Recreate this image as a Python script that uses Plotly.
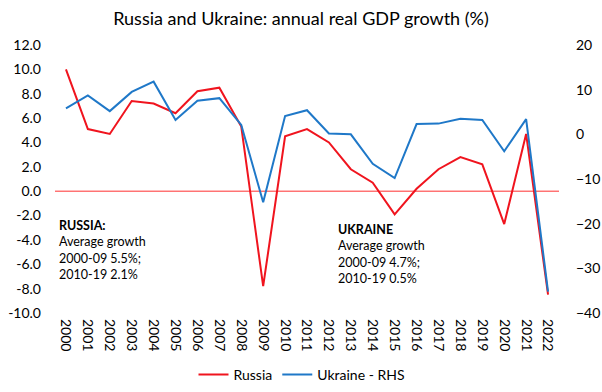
import plotly.graph_objects as go

years = [str(y) for y in range(2000, 2023)]
russia = [10.0, 5.1, 4.7, 7.4, 7.2, 6.4, 8.2, 8.5, 5.3, -7.8, 4.5, 5.1, 4.0, 1.8, 0.7,
          -1.9, 0.2, 1.8, 2.8, 2.2, -2.7, 4.7, -8.5]
ukraine = [5.8, 8.7, 5.2, 9.5, 11.8, 3.2, 7.5, 8.1, 2.1, -15.2, 4.1, 5.4, 0.2, 0.0, -6.6,
           -9.8, 2.3, 2.4, 3.5, 3.2, -3.8, 3.4, -35.2]
left_ticks = [-10, -8, -6, -4, -2, 0, 2, 4, 6, 8, 10, 12]
right_ticks = [-40, -30, -20, -10, 0, 10, 20]

FONT = "Lato"
PLOT_L, PLOT_R, PLOT_T, PLOT_B = 55, 559, 45, 313
W, H = 602, 392
PH = PLOT_B - PLOT_T
PW = PLOT_R - PLOT_L

fig = go.Figure()
fig.add_trace(go.Scatter(x=years, y=russia, name="Russia", mode="lines",
                         line=dict(color="#F0141E", width=2)))
fig.add_trace(go.Scatter(x=years, y=ukraine, name="Ukraine - RHS", mode="lines",
                         line=dict(color="#1F78C8", width=2), yaxis="y2"))

# zero reference line on the left axis
fig.add_hline(y=0, line=dict(color="#FF3030", width=1), layer="below")

fig.update_layout(
    width=W, height=H,
    paper_bgcolor="white", plot_bgcolor="white",
    margin=dict(l=PLOT_L, r=W - PLOT_R, t=PLOT_T, b=H - PLOT_B, autoexpand=False),
    font=dict(family=FONT, size=14, color="black"),
    title=dict(text="Russia and Ukraine: annual real GDP growth (%)",
               x=0.5, xanchor="center", y=1 - 19 / H, yanchor="middle",
               font=dict(family=FONT, size=18, color="black")),
    xaxis=dict(type="category", range=[-0.5, 22.5], tickangle=90,
               showgrid=False, showline=False, ticks="", zeroline=False,
               automargin=False, ticklabelstandoff=5, tickfont=dict(size=14)),
    yaxis=dict(range=[-10, 12], tickvals=left_ticks,
               ticktext=[f"{v:.1f}" for v in left_ticks],
               showgrid=False, zeroline=False, showline=False, ticks="",
               automargin=False, ticklabelstandoff=13, tickfont=dict(size=14)),
    yaxis2=dict(range=[-40, 20], tickvals=right_ticks, overlaying="y", side="right",
                showgrid=False, zeroline=False, showline=False, ticks="",
                automargin=False, ticklabelstandoff=16, tickfont=dict(size=14)),
    legend=dict(orientation="h", x=(301.5 - PLOT_L) / PW, xanchor="center",
                y=-(375 - PLOT_B) / PH, yanchor="middle",
                font=dict(size=14), itemwidth=30, tracegroupgap=0),
    showlegend=True,
)

fig.add_annotation(xref="paper", yref="paper", x=(57 - PLOT_L) / PW, y=(PLOT_B - 216) / PH,
                   xanchor="left", yanchor="top", align="left", showarrow=False,
                   text="<b>RUSSIA:</b><br>Average growth<br>2000-09 5.5%;<br>2010-19 2.1%",
                   font=dict(size=12.5))
fig.add_annotation(xref="paper", yref="paper", x=(336 - PLOT_L) / PW, y=(PLOT_B - 220) / PH,
                   xanchor="left", yanchor="top", align="left", showarrow=False,
                   text="<b>UKRAINE</b><br>Average growth<br>2000-09 4.7%;<br>2010-19 0.5%",
                   font=dict(size=12.5))

fig.write_html("out.html", post_script="document.body.style.margin='0';",
               config={"displayModeBar": False})
